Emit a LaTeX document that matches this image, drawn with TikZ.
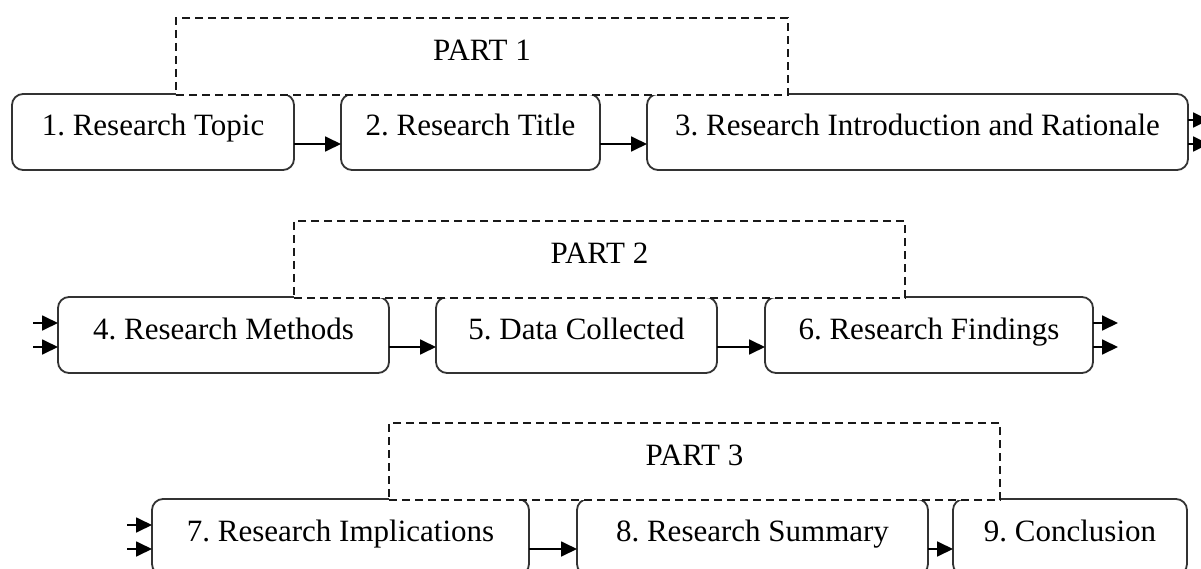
\documentclass[tikz,border=0pt]{standalone}
\usepackage{fontspec}
\setmainfont{Liberation Serif}
\usetikzlibrary{positioning,arrows.meta}
\frenchspacing

\begin{document}
\begin{tikzpicture}[x=1pt, y=1pt, >={Triangle[length=16pt,width=15pt]},
  stage/.style={draw=black!80, line width=1.8pt, rounded corners=11pt, fill=white,
    minimum height=76pt, text height=42pt, text depth=34pt, inner ysep=0pt, outer sep=0pt,
    font=\fontsize{31}{37}\selectfont},
  part/.style={draw=black!90, line width=1.6pt, dash pattern=on 8pt off 5pt, fill=white,
    minimum height=77pt, text height=42pt, text depth=34pt, inner ysep=0pt, outer sep=0pt,
    anchor=south west, font=\fontsize{31}{37}\selectfont},
  flow/.style={->, line width=1.8pt}]
  \useasboundingbox (0,0) rectangle (1201,-569);

  % first row
  \node[stage, minimum width=282pt, anchor=north west] (b1) at (12,-94) {1. Research Topic};
  \node[stage, minimum width=259pt, right=47pt of b1] (b2) {2. Research Title};
  \node[stage, minimum width=541pt, right=47pt of b2] (b3) {3. Research Introduction and Rationale};

  % second row
  \node[stage, minimum width=331pt, anchor=north west] (b4) at (58,-297) {4. Research Methods};
  \node[stage, minimum width=281pt, right=47pt of b4] (b5) {5. Data Collected};
  \node[stage, minimum width=328pt, right=48pt of b5] (b6) {6. Research Findings};

  % third row
  \node[stage, minimum width=377pt, anchor=north west] (b7) at (152,-499) {7. Research Implications};
  \node[stage, minimum width=351pt, right=48pt of b7] (b8) {8. Research Summary};
  \node[stage, minimum width=234pt, right=25pt of b8] (b9) {9. Conclusion};

  % dashed frames sit on the box tops
  \node[part, minimum width=612pt] (p1) at ([xshift=164pt,yshift=-1pt]b1.north west) {PART 1};
  \node[part, minimum width=611pt] (p2) at ([xshift=236pt,yshift=-1pt]b4.north west) {PART 2};
  \node[part, minimum width=611pt] (p3) at ([xshift=237pt,yshift=-1pt]b7.north west) {PART 3};

  \draw[flow] ([yshift=26pt]b1.south east) -- ([yshift=26pt]b2.south west);
  \draw[flow] ([yshift=26pt]b2.south east) -- ([yshift=26pt]b3.south west);
  \draw[flow] ([yshift=26pt]b4.south east) -- ([yshift=26pt]b5.south west);
  \draw[flow] ([yshift=26pt]b5.south east) -- ([yshift=26pt]b6.south west);
  \draw[flow] ([yshift=26pt]b7.south east) -- ([yshift=26pt]b8.south west);
  \draw[flow] ([yshift=26pt]b8.south east) -- ([yshift=26pt]b9.south west);

  % stubs leaving one row and entering the next
  \foreach \dy [count=\k] in {26pt,50pt} {
    \coordinate (out3-\k) at ([xshift=21pt,yshift=\dy]b3.south east);
    \coordinate (out6-\k) at ([xshift=25pt,yshift=\dy]b6.south east);
    \coordinate (in4-\k) at ([xshift=-25pt,yshift=\dy]b4.south west);
    \coordinate (in7-\k) at ([xshift=-25pt,yshift=\dy]b7.south west);
    \draw[flow] ([yshift=\dy]b3.south east) -- (out3-\k);
    \draw[flow] ([yshift=\dy]b6.south east) -- (out6-\k);
    \draw[flow] (in4-\k) -- ([yshift=\dy]b4.south west);
    \draw[flow] (in7-\k) -- ([yshift=\dy]b7.south west);
  }
\end{tikzpicture}
\end{document}
